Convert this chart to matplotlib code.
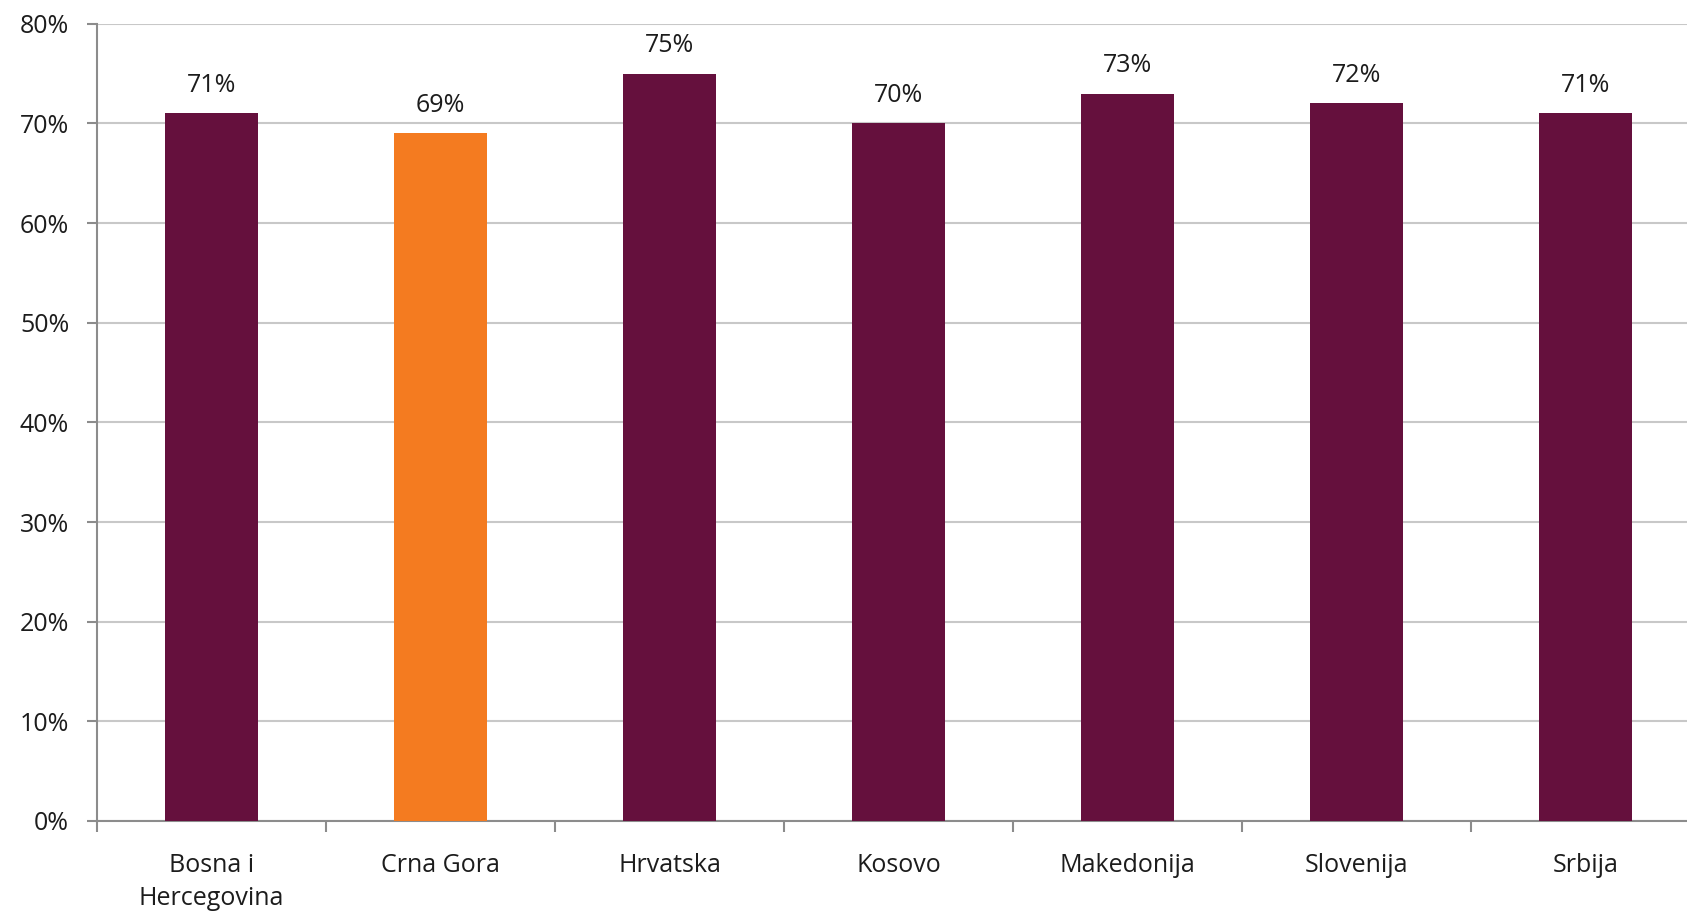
import matplotlib.pyplot as plt
from matplotlib.ticker import PercentFormatter

# Data
countries = ["Bosna i\nHercegovina", "Crna Gora", "Hrvatska", "Kosovo",
             "Makedonija", "Slovenija", "Srbija"]
values = [71, 69, 75, 70, 73, 72, 71]
highlight = "Crna Gora"

maroon = "#65103d"
orange = "#f47b20"
grid_col = "#c8c8c8"
axis_col = "#8c8c8c"
text_col = "#1c1c1c"

plt.rcParams['font.family'] = ['Open Sans', 'DejaVu Sans']
fs = 18

fig = plt.figure(figsize=(16.87, 9.14), dpi=100)
# plot area runs past the right edge, as in the reference
ax = fig.add_axes([0.0575, 0.1018, 0.9502, 0.8722])

x = list(range(len(countries)))
colors = [orange if c == highlight else maroon for c in countries]
bars = ax.bar(x, values, width=0.41, color=colors, zorder=3)

for xi, v in zip(x, values):
    ax.annotate(f"{v}%", (xi, v), xytext=(0, 11), textcoords="offset points",
                ha="center", va="bottom", fontsize=fs, color=text_col)

ax.set_xlim(-0.5, len(countries) - 0.5)
ax.set_ylim(0, 80)
ax.set_yticks(range(0, 81, 10))
ax.yaxis.set_major_formatter(PercentFormatter(decimals=0))
ax.yaxis.grid(True, color=grid_col, lw=1.5, zorder=0)

ax.set_xticks(x)
ax.set_xticklabels(countries, fontsize=fs, color=text_col, linespacing=1.45)
ax.set_xticks([i - 0.5 for i in range(len(countries) + 1)], minor=True)
ax.tick_params(axis="x", which="major", length=0, pad=23)
ax.tick_params(axis="x", which="minor", length=8, width=1.5, color=axis_col)
ax.tick_params(axis="y", length=7, width=1.5, color=axis_col, pad=13,
               labelsize=fs, labelcolor=text_col)

for s in ["top", "right"]:
    ax.spines[s].set_visible(False)
for s in ["left", "bottom"]:
    ax.spines[s].set_color(axis_col)
    ax.spines[s].set_linewidth(1.5)

fig.savefig("out.png", dpi=100)
